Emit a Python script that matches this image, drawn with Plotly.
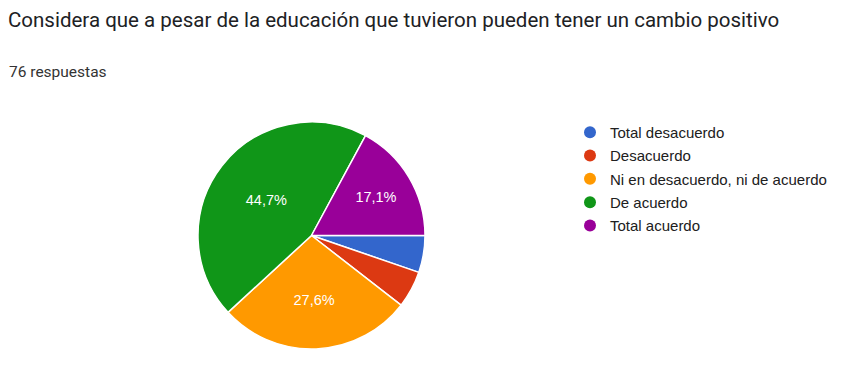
import plotly.graph_objects as go

title = "Considera que a pesar de la educación que tuvieron pueden tener un cambio positivo"
subtitle = "76 respuestas"
labels = ["Total desacuerdo", "Desacuerdo", "Ni en desacuerdo, ni de acuerdo", "De acuerdo", "Total acuerdo"]
counts = [4, 4, 21, 34, 13]
slice_text = ["", "", "27,6%", "44,7%", "17,1%"]
colors = ["#3366cc", "#dc3912", "#ff9900", "#109618", "#990099"]

W, H = 859, 367
OFF = 8  # page body margin offset


def px(x):
    return (x - OFF) / W


def py(y):
    return 1 - (y - OFF) / H


fig = go.Figure()
fig.add_trace(go.Pie(
    labels=labels, values=counts, text=slice_text, textinfo="text",
    sort=False, direction="clockwise", rotation=90,
    marker=dict(colors=colors, line=dict(color="white", width=1.5)),
    textfont=dict(family="Arial, Liberation Sans", size=14.5, color="white"),
    insidetextorientation="horizontal", textposition="inside",
    domain=dict(x=[px(198), px(425)], y=[py(349), py(122)]),
    showlegend=False, hoverinfo="label+percent",
))
for i, (lab, col) in enumerate(zip(labels, colors)):
    fig.add_trace(go.Scatter(x=[None], y=[None], mode="markers", name=lab,
                             legendgroup=f"g{i}",
                             marker=dict(symbol="circle", size=12, color=col),
                             showlegend=True))

fig.update_layout(
    width=W, height=H,
    margin=dict(l=0, r=0, t=0, b=0),
    paper_bgcolor="white", plot_bgcolor="white",
    xaxis=dict(visible=False), yaxis=dict(visible=False),
    legend=dict(x=px(570), y=py(116), xanchor="left", yanchor="top",
                font=dict(family="Arial, Liberation Sans", size=15, color="#202020"),
                itemwidth=30, tracegroupgap=0.8, bgcolor="rgba(0,0,0,0)"),
    annotations=[
        dict(text=title, x=px(6), y=py(20), xref="paper", yref="paper",
             xanchor="left", yanchor="middle", showarrow=False,
             font=dict(family="Roboto", size=20.5, color="#202124")),
        dict(text=subtitle, x=px(7), y=py(71.5), xref="paper", yref="paper",
             xanchor="left", yanchor="middle", showarrow=False,
             font=dict(family="Roboto", size=15.5, color="#333333")),
    ],
)
fig.write_html("out.html")
